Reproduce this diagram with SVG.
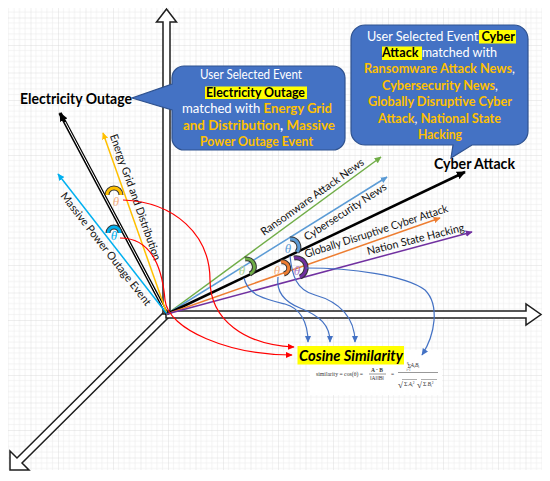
<svg xmlns="http://www.w3.org/2000/svg" width="550" height="481" viewBox="0 0 550 481">
<defs>
<pattern id="grid" x="3" y="17.5" width="27.5" height="27.5" patternUnits="userSpaceOnUse">
<path d="M5.5,0V27.5M11,0V27.5M16.5,0V27.5M22,0V27.5M0,5.5H27.5M0,11H27.5M0,16.5H27.5M0,22H27.5" stroke="#ececec" stroke-width="0.6" fill="none"/>
<path d="M0,0V27.5M0,0H27.5" stroke="#d6d6d6" stroke-width="0.8" fill="none"/>
</pattern>
<marker id="aBlk" viewBox="0 0 10 10" refX="9" refY="5" markerWidth="9" markerHeight="9" markerUnits="userSpaceOnUse" orient="auto"><path d="M0,0.5 L10,5 L0,9.5 Z" fill="#000"/></marker>
<marker id="aYel" viewBox="0 0 10 10" refX="9" refY="5" markerWidth="7" markerHeight="7" markerUnits="userSpaceOnUse" orient="auto"><path d="M0,0.5 L10,5 L0,9.5 Z" fill="#FFC000"/></marker>
<marker id="aCyan" viewBox="0 0 10 10" refX="9" refY="5" markerWidth="7" markerHeight="7" markerUnits="userSpaceOnUse" orient="auto"><path d="M0,0.5 L10,5 L0,9.5 Z" fill="#00B0F0"/></marker>
<marker id="aGrn" viewBox="0 0 10 10" refX="9" refY="5" markerWidth="7" markerHeight="7" markerUnits="userSpaceOnUse" orient="auto"><path d="M0,0.5 L10,5 L0,9.5 Z" fill="#70AD47"/></marker>
<marker id="aBlu" viewBox="0 0 10 10" refX="9" refY="5" markerWidth="7" markerHeight="7" markerUnits="userSpaceOnUse" orient="auto"><path d="M0,0.5 L10,5 L0,9.5 Z" fill="#5B9BD5"/></marker>
<marker id="aOrg" viewBox="0 0 10 10" refX="9" refY="5" markerWidth="7" markerHeight="7" markerUnits="userSpaceOnUse" orient="auto"><path d="M0,0.5 L10,5 L0,9.5 Z" fill="#ED7D31"/></marker>
<marker id="aPur" viewBox="0 0 10 10" refX="9" refY="5" markerWidth="7" markerHeight="7" markerUnits="userSpaceOnUse" orient="auto"><path d="M0,0.5 L10,5 L0,9.5 Z" fill="#7030A0"/></marker>
<marker id="aRed" viewBox="0 0 10 10" refX="9" refY="5" markerWidth="7" markerHeight="7" markerUnits="userSpaceOnUse" orient="auto"><path d="M0,0.5 L10,5 L0,9.5 Z" fill="#FF0000"/></marker>
<marker id="aCon" viewBox="0 0 10 10" refX="9" refY="5" markerWidth="7" markerHeight="7" markerUnits="userSpaceOnUse" orient="auto"><path d="M0,0.5 L10,5 L0,9.5 Z" fill="#4472C4"/></marker>
</defs>
<style>
.axis{fill:#fff;stroke:#1e1e1e;stroke-width:1.5;stroke-linejoin:miter}
.vec{fill:none;stroke-width:1.5}
.lbl{font-family:Lato,"Liberation Sans",sans-serif;font-size:11px;fill:#111}
.big{font-family:Lato,"Liberation Sans",sans-serif;font-size:14.5px;font-weight:bold;fill:#000}
.ct{font-family:Lato,"Liberation Sans",sans-serif;font-size:12.5px;fill:#fff}
.g{fill:#FFC000;font-weight:bold}
.k{fill:#000;font-weight:bold}
.w{fill:#fff}
.hl{fill:#FFFF00}
.callout{fill:#4472C4;stroke:#2F528F;stroke-width:1.2}
.arcO{fill:none;stroke:#333;stroke-width:5;stroke-linecap:butt}
.th{font-family:"Liberation Serif","DejaVu Serif",serif;font-style:italic;font-size:13px}
.red{fill:none;stroke:#FF0000;stroke-width:1.2}
.con{fill:none;stroke:#4472C4;stroke-width:1.2}
.fm{font-family:"Liberation Serif","DejaVu Serif",serif;font-size:5.5px;fill:#333}
</style>
<rect width="550" height="481" fill="#fff"/>
<rect x="8" y="8" width="534" height="462" fill="url(#grid)"/>

<g id="axes">
<polygon class="axis" points="164.5,311.5 17,458 10,451 10,470 29,470 22,463 169.5,316.5"/>
<polygon class="axis" points="163,314 163,22 156.5,22 166.5,9 176.5,22 170,22 170,314"/>
<polygon class="axis" points="166,311 526,311 526,304 541,314.5 526,325 526,318 166,318"/>
</g>

<g id="vectors">
<g id="v-electricity">
<line x1="167" y1="314" x2="60" y2="113" stroke="#000" stroke-width="3.6" marker-end="url(#aBlk)"/>
<line x1="167" y1="314" x2="65" y2="122" stroke="#fff" stroke-width="1"/>
</g>
<line id="v-energy" class="vec" x1="167" y1="314" x2="103" y2="133" stroke="#FFC000" marker-end="url(#aYel)"/>
<line id="v-massive" class="vec" x1="167" y1="314" x2="58" y2="174" stroke="#00B0F0" marker-end="url(#aCyan)"/>
<line id="v-ransom" class="vec" x1="167" y1="314" x2="381" y2="157" stroke="#70AD47" marker-end="url(#aGrn)"/>
<line id="v-cybersec" class="vec" x1="167" y1="314" x2="387" y2="177" stroke="#5B9BD5" marker-end="url(#aBlu)"/>
<line id="v-cyber" x1="167" y1="314" x2="465" y2="172" stroke="#000" stroke-width="2.5" marker-end="url(#aBlk)"/>
<line id="v-global" class="vec" x1="167" y1="314" x2="440" y2="218" stroke="#ED7D31" marker-end="url(#aOrg)"/>
<line id="v-nation" class="vec" x1="167" y1="314" x2="472" y2="232" stroke="#7030A0" marker-end="url(#aPur)"/>
</g>

<g id="vector-labels">
<text class="big" x="20" y="104" textLength="112" lengthAdjust="spacingAndGlyphs">Electricity Outage</text>
<text class="big" x="434" y="169" textLength="81" lengthAdjust="spacingAndGlyphs">Cyber Attack</text>
<text class="lbl" transform="translate(109.7,135.8) rotate(70.5)" textLength="133" lengthAdjust="spacingAndGlyphs">Energy Grid and Distribution</text>
<text class="lbl" transform="translate(60,196) rotate(52.1)" textLength="140" lengthAdjust="spacingAndGlyphs">Massive Power Outage Event</text>
<text class="lbl" transform="translate(264,236) rotate(-35.5)" textLength="124" lengthAdjust="spacingAndGlyphs">Ransomware Attack News</text>
<text class="lbl" transform="translate(307,241) rotate(-33)" textLength="96" lengthAdjust="spacingAndGlyphs">Cybersecurity News</text>
<text class="lbl" transform="translate(306,258) rotate(-18)" textLength="150" lengthAdjust="spacingAndGlyphs">Globally Disruptive Cyber Attack</text>
<text class="lbl" transform="translate(368,255) rotate(-14)" textLength="100" lengthAdjust="spacingAndGlyphs">Nation State Hacking</text>
</g>

<g id="angles">
<path class="arcO" d="M107,195 A7,7 0 0 1 121,195"/><path d="M107,195 A7,7 0 0 1 121,195" fill="none" stroke="#FFC000" stroke-width="3"/>
<text class="th" x="116" y="206" text-anchor="middle" fill="#F4B183">θ</text>
<path class="arcO" d="M108,233 A6,6 0 0 1 120,233"/><path d="M108,233 A6,6 0 0 1 120,233" fill="none" stroke="#00B0F0" stroke-width="3"/>
<text class="th" x="114" y="240" text-anchor="middle" fill="#00B0F0">θ</text>
<path class="arcO" d="M245,259 A8,8 0 0 1 250,274"/><path d="M245,259 A8,8 0 0 1 250,274" fill="none" stroke="#70AD47" stroke-width="3"/>
<text class="th" x="242" y="275" text-anchor="middle" fill="#A9D18E">θ</text>
<path class="arcO" d="M290,239 A8,8 0 0 1 297,252"/><path d="M290,239 A8,8 0 0 1 297,252" fill="none" stroke="#5B9BD5" stroke-width="3"/>
<text class="th" x="288" y="253" text-anchor="middle" fill="#5B9BD5">θ</text>
<path class="arcO" d="M281,262 A6,6 0 0 1 284,274"/><path d="M281,262 A6,6 0 0 1 284,274" fill="none" stroke="#ED7D31" stroke-width="3"/>
<text class="th" x="277" y="275" text-anchor="middle" fill="#F4B183">θ</text>
<path class="arcO" d="M294,258 A10,10 0 0 1 300,277"/><path d="M294,258 A10,10 0 0 1 300,277" fill="none" stroke="#7030A0" stroke-width="3"/>
<text class="th" x="297" y="275" text-anchor="middle" fill="#A77BCA">θ</text>
</g>

<g id="callout-electricity">
<path class="callout" d="M184,66 H333 A12,12 0 0 1 345,78 V138 A12,12 0 0 1 333,150 H184 A12,12 0 0 1 172,138 V110 L132,98 L172,84 V78 A12,12 0 0 1 184,66 Z"/>
<rect class="hl" x="205" y="86.5" width="102" height="12.5"/>
<text class="ct" x="200" y="79" textLength="102" lengthAdjust="spacingAndGlyphs">User Selected Event</text>
<text class="ct k" x="206" y="96.5" textLength="99" lengthAdjust="spacingAndGlyphs">Electricity Outage</text>
<text class="ct" x="182" y="113" textLength="150" lengthAdjust="spacingAndGlyphs"><tspan class="w">matched with </tspan><tspan class="g">Energy Grid</tspan></text>
<text class="ct" x="183" y="130" textLength="152" lengthAdjust="spacingAndGlyphs"><tspan class="g">and Distribution</tspan><tspan class="w" font-weight="bold">, </tspan><tspan class="g">Massive</tspan></text>
<text class="ct g" x="200" y="145.5" textLength="113" lengthAdjust="spacingAndGlyphs">Power Outage Event</text>
</g>

<g id="callout-cyber">
<path class="callout" d="M365,25 H514 A14,14 0 0 1 528,39 V131 A14,14 0 0 1 514,145 H472 L451,158 L453,145 H365 A14,14 0 0 1 351,131 V39 A14,14 0 0 1 365,25 Z"/>
<rect class="hl" x="479" y="30" width="37" height="13.5"/>
<rect class="hl" x="382" y="46.5" width="40" height="13.5"/>
<text class="ct" x="367" y="40.7" textLength="148" lengthAdjust="spacingAndGlyphs"><tspan class="w">User Selected Event </tspan><tspan class="k">Cyber</tspan></text>
<text class="ct" x="382" y="56.7" textLength="115" lengthAdjust="spacingAndGlyphs"><tspan class="k">Attack</tspan><tspan class="w"> matched with</tspan></text>
<text class="ct" x="364" y="73.3" textLength="151" lengthAdjust="spacingAndGlyphs"><tspan class="g">Ransomware Attack News</tspan><tspan class="w">,</tspan></text>
<text class="ct" x="382" y="90" textLength="116" lengthAdjust="spacingAndGlyphs"><tspan class="g">Cybersecurity News</tspan><tspan class="w">,</tspan></text>
<text class="ct g" x="368" y="106" textLength="144" lengthAdjust="spacingAndGlyphs">Globally Disruptive Cyber</text>
<text class="ct" x="378" y="122.7" textLength="123" lengthAdjust="spacingAndGlyphs"><tspan class="g">Attack</tspan><tspan class="w">, </tspan><tspan class="g">National State</tspan></text>
<text class="ct g" x="418" y="139.3" textLength="44" lengthAdjust="spacingAndGlyphs">Hacking</text>
</g>

<g id="cosine-similarity">
<rect x="310" y="350" width="132" height="45" fill="#fff"/>
<rect class="hl" x="297.5" y="346" width="106.5" height="18.5"/>
<text x="299" y="360.5" font-family="Lato,'Liberation Sans',sans-serif" font-size="15.5" font-weight="bold" font-style="italic" fill="#000" textLength="104" lengthAdjust="spacingAndGlyphs">Cosine Similarity</text>
<text class="fm" x="316" y="376" textLength="47" lengthAdjust="spacingAndGlyphs">similarity = cos(θ) =</text>
<text class="fm" x="377" y="372" text-anchor="middle" font-weight="bold">A · B</text>
<line x1="369" y1="374" x2="386" y2="374" stroke="#333" stroke-width="0.5"/>
<text class="fm" x="377" y="380" text-anchor="middle">‖A‖‖B‖</text>
<text class="fm" x="391" y="376">=</text>
<text class="fm" x="406.5" y="368"><tspan font-size="6">Σ</tspan><tspan font-size="3" dx="-4.5" dy="2.5">i=1</tspan><tspan font-size="3" dx="-3.5" dy="-7">n</tspan><tspan font-style="italic" dx="2" dy="3.5">A</tspan><tspan font-size="3.5" dy="1">i</tspan><tspan font-style="italic" dy="-1">B</tspan><tspan font-size="3.5" dy="1">i</tspan></text>
<line x1="398" y1="372.5" x2="438" y2="372.5" stroke="#333" stroke-width="0.5"/>
<text class="fm" x="398" y="388"><tspan font-size="9">√</tspan><tspan font-size="6" dx="1" dy="-2">Σ</tspan><tspan font-style="italic" dx="1" dy="-0.5">A</tspan><tspan font-size="3.5" dy="1">i</tspan><tspan font-size="3.5" dy="-3">2</tspan></text>
<line x1="402" y1="379.5" x2="417" y2="379.5" stroke="#333" stroke-width="0.4"/>
<text class="fm" x="417" y="388"><tspan font-size="9">√</tspan><tspan font-size="6" dx="1" dy="-2">Σ</tspan><tspan font-style="italic" dx="1" dy="-0.5">B</tspan><tspan font-size="3.5" dy="1">i</tspan><tspan font-size="3.5" dy="-3">2</tspan></text>
<line x1="421" y1="379.5" x2="437" y2="379.5" stroke="#333" stroke-width="0.4"/>
</g>

<g id="connectors">
<path class="red" d="M123,200 C175,202 210,235 210,280 C210,320 245,345 294,347" marker-end="url(#aRed)"/>
<path class="red" d="M120,238 C150,238 162,265 165,300 C168,330 230,355 292,355" marker-end="url(#aRed)"/>
<path class="con" d="M244,278 C248,296 268,300 285,304 C300,308 308,322 308,342" marker-end="url(#aCon)"/>
<path class="con" d="M278,277 C276,292 285,302 300,308 C320,316 330,325 330,342" marker-end="url(#aCon)"/>
<path class="con" d="M290,256 C292,275 296,290 315,295 C340,302 355,318 355,342" marker-end="url(#aCon)"/>
<path class="con" d="M306,268 C350,268 405,275 425,290 C440,305 435,335 422,355" marker-end="url(#aCon)"/>
</g>
</svg>
